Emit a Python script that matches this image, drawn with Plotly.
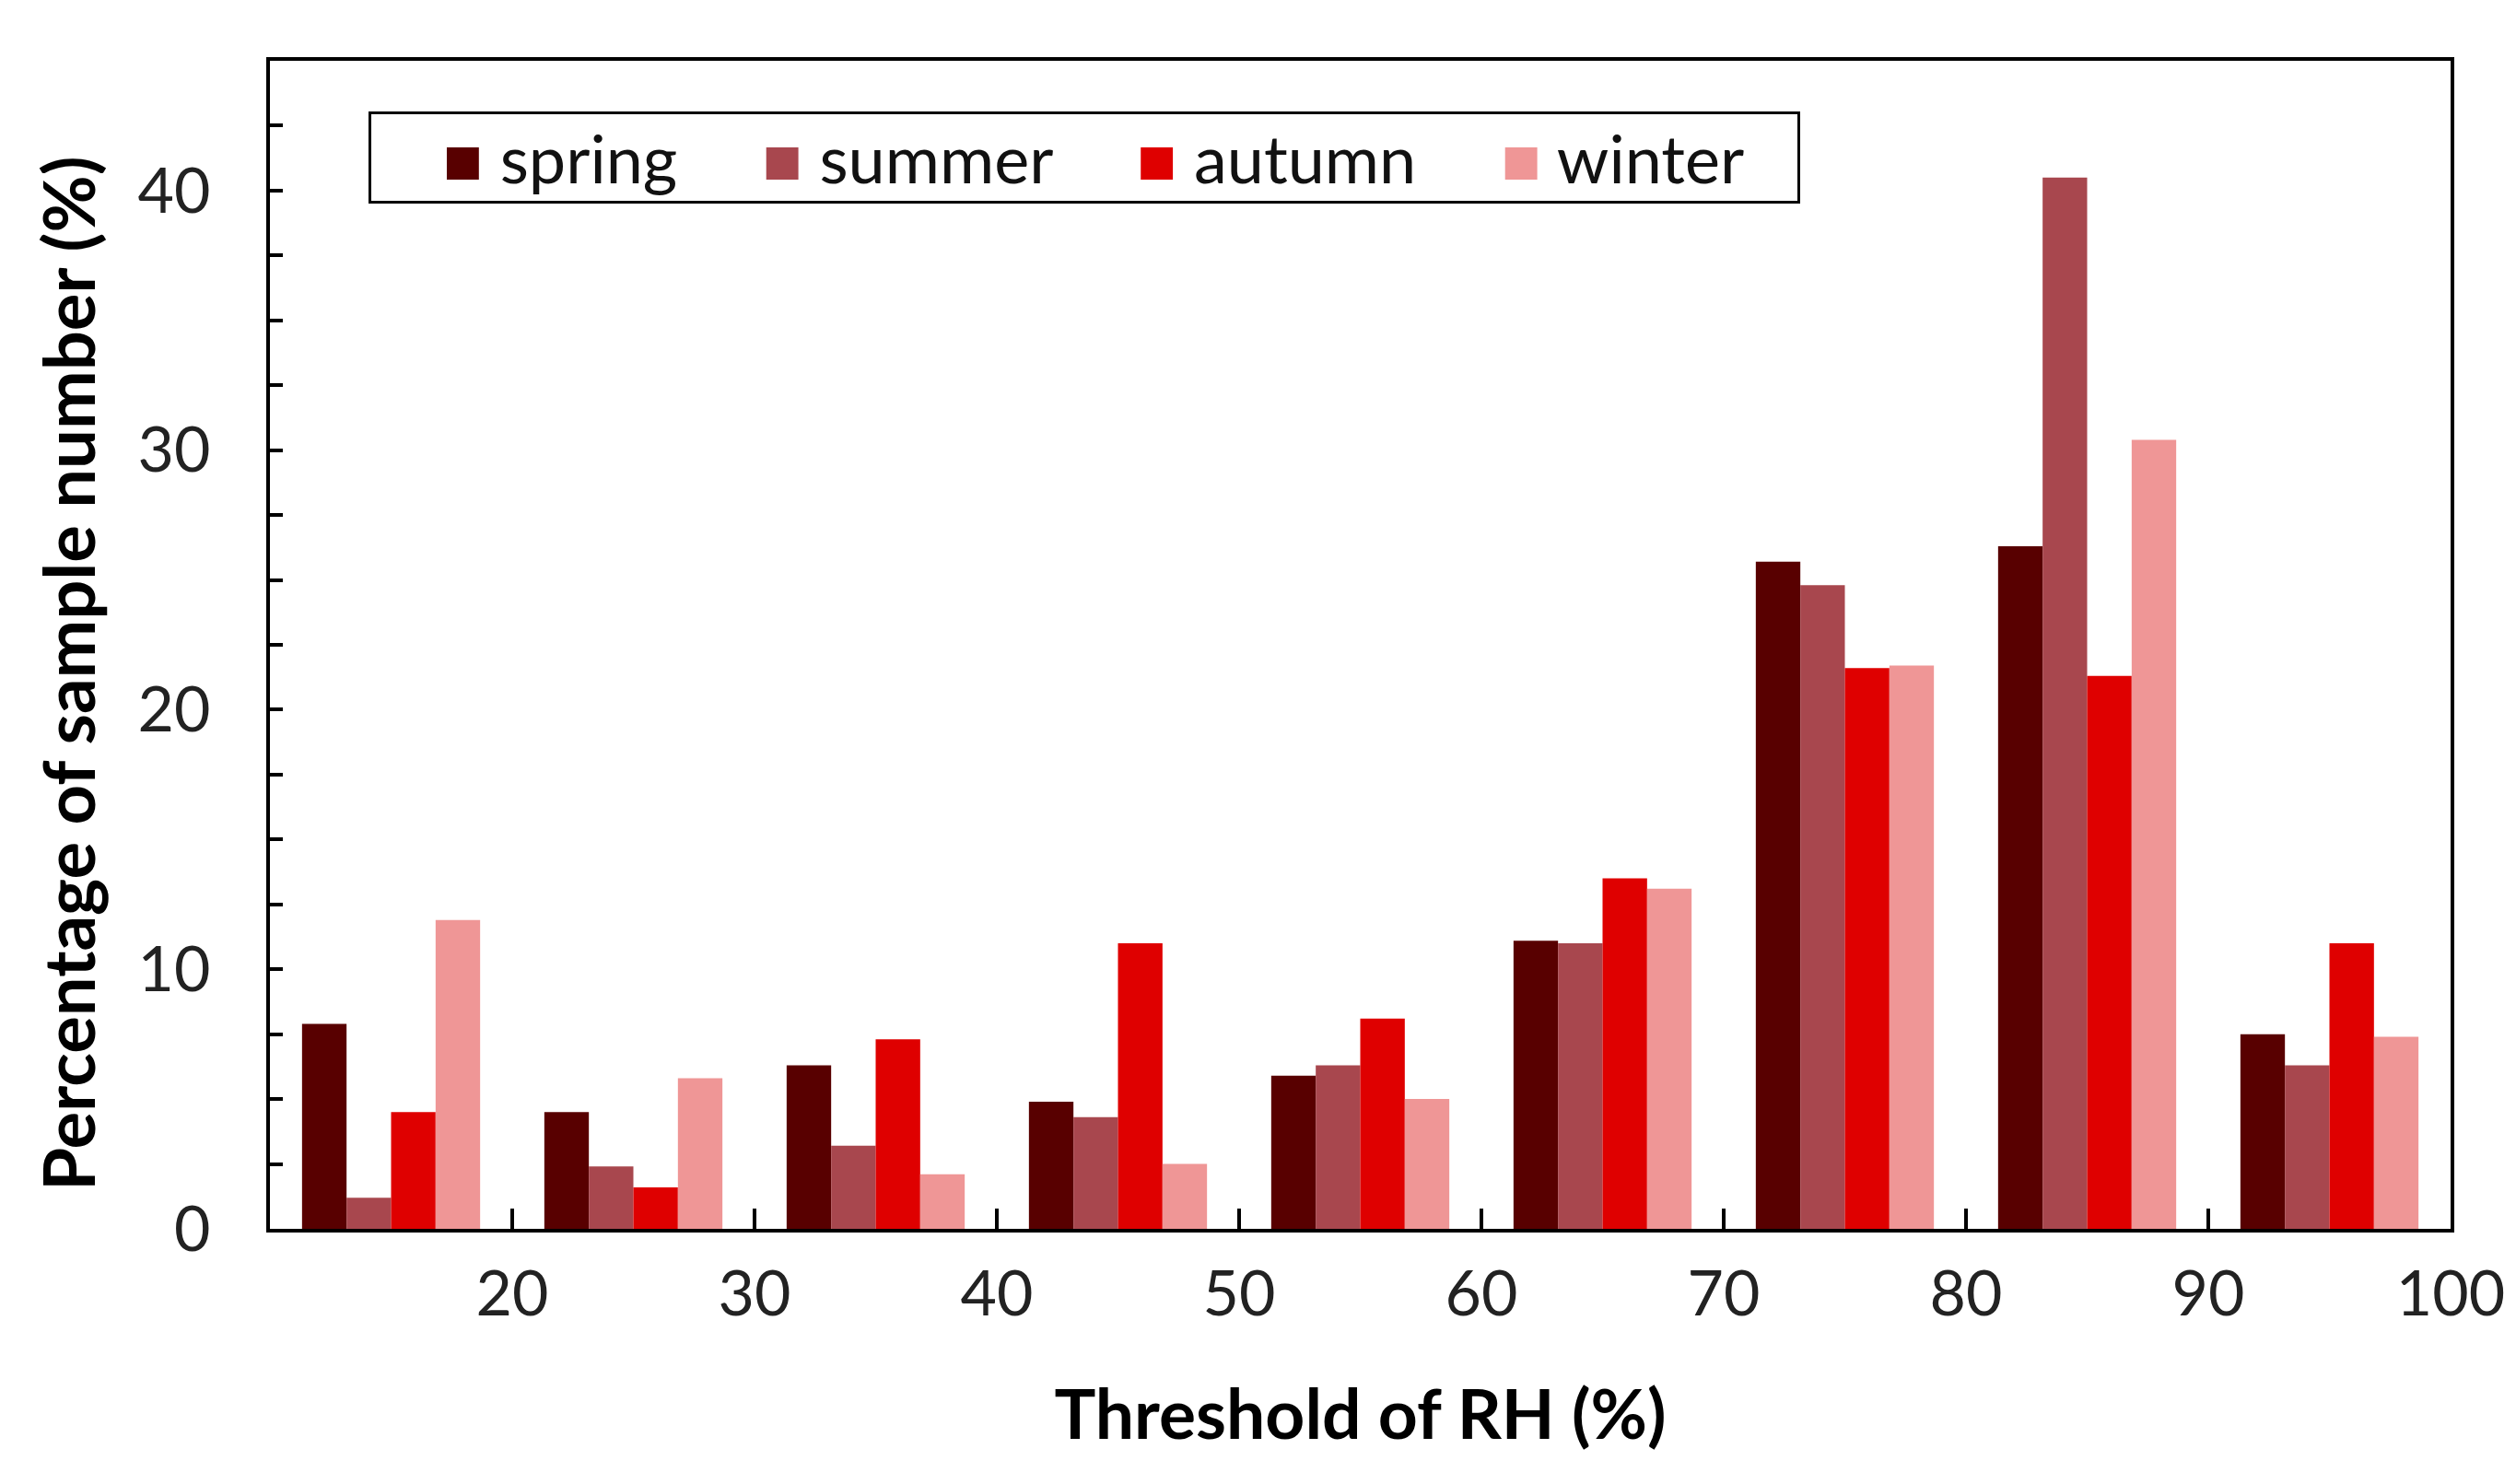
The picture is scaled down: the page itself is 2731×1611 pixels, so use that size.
import plotly.graph_objects as go

# RH threshold bins (bin centres), 10-20 ... 90-100
rh_bins = [15, 25, 35, 45, 55, 65, 75, 85, 95]
x_tick_vals = [20, 30, 40, 50, 60, 70, 80, 90, 100]

spring = [7.9, 4.5, 6.3, 4.9, 5.9, 11.1, 25.7, 26.3, 7.5]
summer = [1.2, 2.4, 3.2, 4.3, 6.3, 11.0, 24.8, 40.5, 6.3]
autumn = [4.5, 1.6, 7.3, 11.0, 8.1, 13.5, 21.6, 21.3, 11.0]
winter = [11.9, 5.8, 2.1, 2.5, 5.0, 13.1, 21.7, 30.4, 7.4]

seasons = ['spring', 'summer', 'autumn', 'winter']
colors = ['#580000', '#A8474E', '#DF0000', '#EF9696']

fig = go.Figure()
for name, vals, col in zip(seasons, [spring, summer, autumn, winter], colors):
    fig.add_trace(go.Bar(x=rh_bins, y=vals, name=name, showlegend=False,
                         marker=dict(color=col, line=dict(width=0))))

font_family = 'Lato, "Noto Sans", sans-serif'

# legend drawn as one boxed annotation so the colour swatches can be large
nb = '\u00a0'
legend_parts = []
for name, col in zip(seasons, colors):
    legend_parts.append(f'<span style="color:{col}">\u25A0</span>{nb}{name}')
legend_text = nb * 4 + (nb * 5).join(legend_parts) + nb * 3

fig.add_annotation(
    text=legend_text, xref='paper', yref='paper', x=0.045, y=0.957,
    xanchor='left', yanchor='top', showarrow=False, align='left',
    font=dict(family=font_family, size=72, color='#111111'),
    bordercolor='black', borderwidth=3, borderpad=4, bgcolor='white',
)

# y axis title placed by hand (sits a little below the axis centre in the original)
fig.add_annotation(
    text='<b>Percentage of sample number (%)</b>', xref='paper', yref='paper',
    x=-0.0925, y=0.475, xanchor='center', yanchor='middle', textangle=-90,
    showarrow=False, font=dict(family=font_family, size=76, color='black'),
)

fig.update_layout(
    width=2731, height=1611,
    margin=dict(l=293, r=71, t=66, b=277),
    paper_bgcolor='white', plot_bgcolor='white',
    barmode='group', bargap=0.265, bargroupgap=0,
    font=dict(family=font_family, size=68, color='#222222'),
    showlegend=False,
)

fig.update_xaxes(
    range=[10, 100], tickvals=x_tick_vals, ticktext=[str(v) for v in x_tick_vals],
    showgrid=False, zeroline=False,
    showline=True, linecolor='black', linewidth=4, mirror=True,
    ticks='inside', ticklen=22, tickwidth=4, tickcolor='black',
    tickfont=dict(size=68, color='#222222'), ticklabelstandoff=8,
    title=dict(text='<b>Threshold of RH (%)</b>', font=dict(size=75, color='black'), standoff=70),
)

fig.update_yaxes(
    range=[0, 45], dtick=10, tick0=0,
    showgrid=False, zeroline=False,
    showline=True, linecolor='black', linewidth=4, mirror=True,
    ticks='inside', ticklen=14, tickwidth=4, tickcolor='black',
    minor=dict(dtick=2.5, ticks='inside', ticklen=14, tickwidth=4, tickcolor='black', showgrid=False),
    tickfont=dict(size=68, color='#222222'),
    ticklabelstandoff=47,
)

fig.write_html("out.html", config={'displayModeBar': False},
               post_script="document.body.style.margin='0';")
